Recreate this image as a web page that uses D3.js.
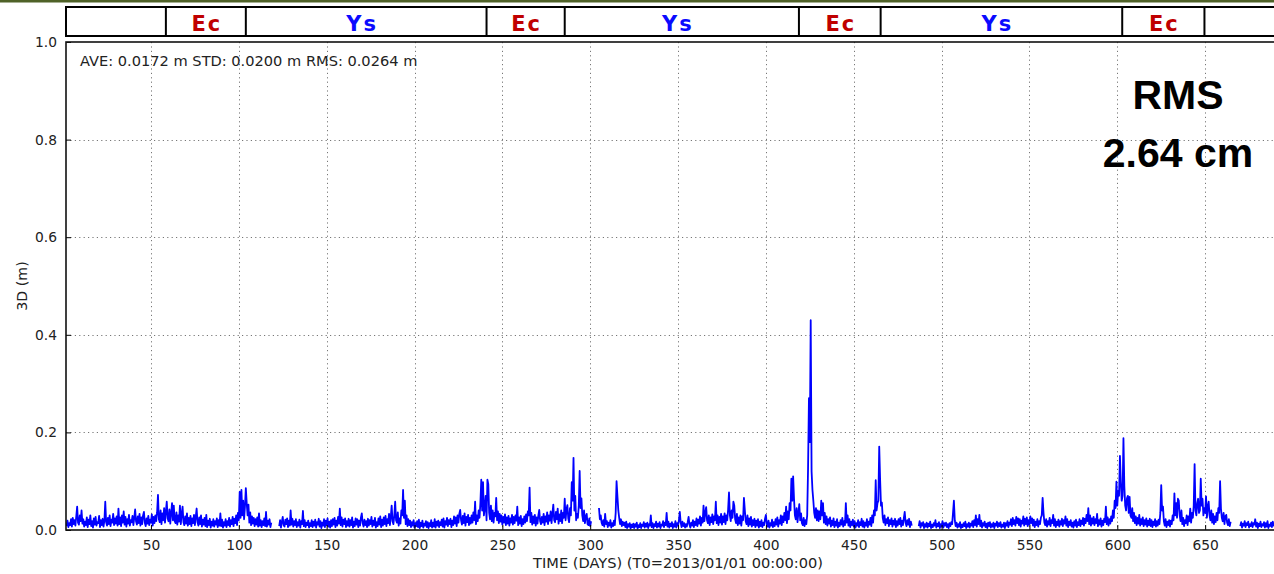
<!DOCTYPE html>
<html>
<head>
<meta charset="utf-8">
<script src="https://cdn.jsdelivr.net/npm/d3@7"></script>
<style>
  html, body { margin: 0; padding: 0; background: #fff; }
  svg { display: block; }
</style>
</head>
<body>
<svg id="chart" width="1274" height="574"></svg>
<script>
// 3D position error (mm), two samples per day; each run is continuous, gaps between runs.
const sampleStep = 0.5;
const runStarts = [2, 123, 305, 487, 670];

const run1 = [
  8,19,6,14,10,22,7,25,12,20,9,28,48,15,11,30,18,40,13,22,
  7,17,10,26,6,21,12,30,8,18,5,24,11,27,9,16,14,29,6,20,
  10,23,7,19,58,16,9,25,12,30,8,21,15,33,10,24,13,28,9,44,
  12,26,8,30,15,38,11,27,7,22,13,31,9,20,16,29,10,25,42,18,
  11,28,14,33,9,26,12,30,37,15,8,24,13,29,10,21,15,32,9,27,
  14,30,18,36,72,22,16,40,12,34,20,45,15,38,58,24,18,42,13,35,
  55,20,50,18,14,36,11,30,17,50,12,33,48,16,10,28,13,34,9,25,
  12,29,8,24,14,31,10,27,44,16,9,26,12,30,7,21,11,25,8,31,
  6,19,10,23,5,17,9,22,7,18,11,24,6,20,9,34,8,21,5,16,
  9,22,6,18,10,25,7,20,12,27,8,23,14,30,10,35,20,78,25,82,
  30,60,22,48,86,55,30,52,15,36,10,28,13,25,8,22,11,26,7,34,
  9,20,6,18,10,24,8,37,7,19,11,22,6,15
];

const run2 = [
  8,20,5,17,27,10,7,21,12,24,6,19,9,40,11,23,7,18,10,22,
  6,16,9,21,5,18,12,39,8,20,6,15,10,19,5,14,8,20,6,17,
  9,21,5,16,11,23,7,18,4,15,9,22,6,19,10,24,7,17,5,20,
  8,22,11,25,6,19,9,27,13,44,10,26,7,21,12,24,6,18,9,23,
  7,20,10,26,5,17,8,24,11,22,6,19,9,25,34,14,7,21,10,18,
  6,23,9,20,12,27,7,19,10,25,5,16,8,24,11,28,6,21,9,26,
  12,29,8,22,14,33,10,27,50,18,12,30,58,20,15,36,9,24,13,40,
  30,82,25,60,12,30,8,22,10,19,6,16,9,20,5,14,8,18,6,21,
  4,15,8,19,5,13,9,18,6,16,4,14,8,20,5,15,7,22,5,17,
  9,19,6,16,10,21,7,24,5,18,11,25,8,20,12,23,6,19,10,28,
  13,26,8,30,15,33,41,20,11,29,14,34,9,27,16,31,10,25,13,30,
  15,36,20,58,12,30,18,40,25,55,103,40,98,30,45,70,20,103,94,35,
  22,50,18,40,15,35,28,66,20,38,14,33,17,30,11,27,15,32,10,26,
  13,29,9,24,15,31,11,27,14,30,19,48,10,26,13,29,8,22,12,28,
  15,32,18,38,30,87,16,35,11,28,14,31,9,26,13,30,41,18,12,27,
  15,33,10,28,17,36,12,30,19,38,14,34,52,20,16,37,22,44,13,32,
  18,40,14,35,25,64,20,42,51,24,16,45,30,98,60,148,40,70,20,33,
  25,50,121,45,65,30,18,40,14,28,33,12,10,24,8,18
];

const run3 = [
  45,22,30,15,10,20,7,33,12,18,6,15,9,20,5,14,8,19,10,35,
  100,69,40,25,12,22,8,17,10,15,6,17,4,12,7,14,3,11,6,13,
  4,12,7,15,3,10,6,14,4,11,8,16,5,13,7,15,4,12,9,30,
  6,14,4,12,8,17,5,13,7,16,4,11,9,18,6,15,10,35,7,17,
  5,13,8,16,4,12,7,18,5,14,9,20,37,15,6,17,8,14,5,12,
  7,16,27,11,5,15,9,20,6,17,10,24,8,21,13,28,9,25,15,50,
  18,35,47,20,14,30,10,26,16,32,12,28,20,58,14,30,10,27,15,33,
  11,28,16,34,12,30,20,42,77,30,18,40,25,58,50,22,14,33,10,26,
  13,30,9,28,20,66,41,18,12,30,8,24,11,27,7,20,10,23,6,19,
  9,22,5,17,8,20,6,15,10,23,31,12,7,19,5,14,9,21,6,16,
  8,22,11,26,7,20,13,30,10,28,16,35,20,48,14,38,22,55,40,105,
  60,110,64,30,22,45,16,35,53,20,34,14,10,25,8,20,12,30,127,270,
  180,430,120,82,60,35,25,45,20,40,18,38,22,60,30,55,15,35,12,28,
  9,22,13,26,7,19,10,24,6,17,9,22,5,15,8,20,11,25,7,18,
  10,55,15,30,9,22,6,17,10,21,7,18,5,14,9,20,6,16,10,23,
  7,18,5,15,9,22,6,17,11,25,8,30,15,40,30,102,40,55,60,171,
  104,50,56,25,15,30,10,22,14,26,8,20,12,24,7,19,11,23,6,18,
  9,22,12,25,7,19,10,24,37,15,8,20,11,23,6,17,9
];

const run4 = [
  8,18,5,14,9,16,4,12,7,15,5,13,8,17,4,11,6,14,9,20,
  5,13,8,16,4,12,7,18,5,14,9,15,6,12,4,14,8,16,12,35,
  60,20,8,15,5,12,7,16,4,11,6,14,8,17,4,12,7,15,5,13,
  9,18,6,20,10,30,7,22,12,31,8,19,5,14,9,17,6,13,4,15,
  8,16,5,12,7,15,4,13,9,17,6,14,8,16,5,11,7,15,4,14,
  9,18,6,15,11,22,8,25,12,20,9,27,14,24,10,22,7,19,13,28,
  9,23,12,26,8,20,11,28,14,24,9,21,6,17,10,22,7,18,12,25,
  30,66,35,15,10,22,7,18,11,25,8,20,14,31,9,22,6,17,10,21,
  7,18,11,23,8,20,13,28,9,22,6,17,10,20,7,15,5,18,9,21,
  6,16,10,22,8,19,12,25,9,23,14,31,18,45,12,30,9,24,13,27,
  10,22,14,33,8,20,11,24,7,19,10,23,16,48,12,26,9,22,13,28,
  18,40,25,60,45,99,50,80,70,152,99,60,70,188,90,50,40,65,70,35,
  68,30,25,45,18,35,14,28,10,25,13,31,9,22,12,26,8,20,11,24,
  7,19,10,23,8,20,6,17,10,22,7,18,9,21,12,35,92,40,48,18,
  9,22,6,17,10,20,7,19,12,30,20,75,30,55,25,64,60,30,18,40,
  12,25,8,20,14,30,10,28,18,44,15,35,25,50,135,40,30,55,64,35,
  40,105,50,64,30,45,35,69,25,48,58,30,20,40,15,33,12,28,16,35,
  20,45,35,100,44,25,18,35,12,28,31,15,10,22,8,17
];

const run5 = [
  8,16,5,13,9,18,6,14,10,17,5,12,8,16,6,14,11,22,7,15,
  4,13,8,17,6,12,9,16,5,14,7,18,4,11,8,15,6,17,9,14,
  5,12,8,16,6,13,10,18,5,12,7,15,4,13,8,17,6,14,9,16,
  5
];

const runs = [run1, run2, run3, run4, run5];

// Observing-season bands along the top strip
const seasonEdges = [58.5, 104, 241, 285.5, 418.8, 465.3, 602.8, 649.6];
const seasonLabels = ["", "Ec", "Ys", "Ec", "Ys", "Ec", "Ys", "Ec", ""];

const xTicks = [50, 100, 150, 200, 250, 300, 350, 400, 450, 500, 550, 600, 650];
const yTicks = [0.0, 0.2, 0.4, 0.6, 0.8, 1.0];

const statsText = "AVE: 0.0172 m STD: 0.0200 m RMS: 0.0264 m";
const rmsLines = ["RMS", "2.64 cm"];

// ---------------------------------------------------------------
const svg = d3.select("#chart");
const W = 1274, H = 574;
const plot = { left: 66, top: 42, right: 1293, bottom: 530 };
const textFont = "DejaVu Sans, sans-serif";
const textColor = "#222";

const x = d3.scaleLinear().domain([1.65, 700]).range([plot.left, plot.right]);
const y = d3.scaleLinear().domain([0, 1]).range([plot.bottom, plot.top]);

// thin slide rule at the very top
svg.append("rect").attr("x", 0).attr("y", 0).attr("width", W).attr("height", 2.5)
  .attr("fill", "#4f6228");

// season strip
const strip = svg.append("g");
const stripTop = 7, stripBottom = 36;
strip.append("rect")
  .attr("x", plot.left).attr("y", stripTop)
  .attr("width", plot.right - plot.left + 20).attr("height", stripBottom - stripTop)
  .attr("fill", "#fff").attr("stroke", "#000").attr("stroke-width", 2);
strip.selectAll("line.edge").data(seasonEdges).join("line")
  .attr("class", "edge")
  .attr("x1", d => x(d)).attr("x2", d => x(d))
  .attr("y1", stripTop).attr("y2", stripBottom)
  .attr("stroke", "#000").attr("stroke-width", 2);
const bounds = [x.domain()[0], ...seasonEdges, x.domain()[1]];
strip.selectAll("text").data(seasonLabels.map((s, i) => ({ s, a: bounds[i], b: bounds[i + 1] })).filter(d => d.s))
  .join("text")
  .attr("x", d => (x(d.a) + x(d.b)) / 2 + (d.s === "Ys" ? -4 : 1))
  .attr("y", 31)
  .attr("text-anchor", "middle")
  .attr("font-family", textFont)
  .attr("font-weight", "bold")
  .attr("font-size", 21)
  .attr("letter-spacing", 2)
  .attr("fill", d => d.s === "Ec" ? "#c00000" : "#0a0aff")
  .text(d => d.s);

// clip for the plot area
svg.append("defs").append("clipPath").attr("id", "plotClip")
  .append("rect").attr("x", plot.left).attr("y", plot.top)
  .attr("width", plot.right - plot.left).attr("height", plot.bottom - plot.top);

// grid
const grid = svg.append("g").attr("stroke", "#777").attr("stroke-width", 1)
  .attr("stroke-dasharray", "1.2,3.2");
grid.selectAll("line.v").data(xTicks).join("line").attr("class", "v")
  .attr("x1", d => Math.round(x(d)) + 0.5).attr("x2", d => Math.round(x(d)) + 0.5)
  .attr("y1", plot.top).attr("y2", plot.bottom);
grid.selectAll("line.h").data(yTicks.filter(v => v > 0 && v < 1)).join("line").attr("class", "h")
  .attr("x1", plot.left).attr("x2", plot.right)
  .attr("y1", d => Math.round(y(d)) + 0.5).attr("y2", d => Math.round(y(d)) + 0.5);

// series
const line = d3.line().x(d => x(d.day)).y(d => y(d.value));
const seriesG = svg.append("g").attr("clip-path", "url(#plotClip)");
runs.forEach((vals, r) => {
  const pts = vals.map((mm, i) => ({ day: runStarts[r] + i * sampleStep, value: mm / 1000 }));
  seriesG.append("path").datum(pts)
    .attr("d", line)
    .attr("fill", "none")
    .attr("stroke", "#0000ff")
    .attr("stroke-width", 1.8)
    .attr("stroke-linejoin", "round");
});

// axes (inward ticks)
const yAxis = d3.axisLeft(y).tickValues(yTicks).tickFormat(d3.format(".1f")).tickSize(-5).tickPadding(9);
const xAxis = d3.axisBottom(x).tickValues(xTicks).tickFormat(d3.format("d")).tickSize(-5).tickPadding(10);

const gy = svg.append("g").attr("transform", `translate(${plot.left},0)`).call(yAxis);
const gx = svg.append("g").attr("transform", `translate(0,${plot.bottom})`).call(xAxis);
[gx, gy].forEach(g => {
  g.select(".domain").remove();
  g.selectAll(".tick line").attr("stroke", "#000").attr("stroke-width", 1);
  g.selectAll(".tick text").attr("fill", textColor)
    .attr("font-family", textFont).attr("font-size", 13.8);
});

// frame
svg.append("rect")
  .attr("x", plot.left).attr("y", plot.top)
  .attr("width", plot.right - plot.left).attr("height", plot.bottom - plot.top)
  .attr("fill", "none").attr("stroke", "#111").attr("stroke-width", 1.6);

// axis titles
svg.append("text")
  .attr("x", 678).attr("y", 568)
  .attr("text-anchor", "middle")
  .attr("font-family", textFont).attr("font-size", 14.6).attr("fill", textColor)
  .text("TIME (DAYS) (T0=2013/01/01 00:00:00)");
svg.append("text")
  .attr("transform", `translate(27,${(plot.top + plot.bottom) / 2}) rotate(-90)`)
  .attr("text-anchor", "middle")
  .attr("font-family", textFont).attr("font-size", 14.2).attr("fill", textColor)
  .text("3D (m)");

// statistics line
svg.append("text")
  .attr("x", 80).attr("y", 66)
  .attr("font-family", textFont).attr("font-size", 14.6).attr("fill", textColor)
  .text(statsText);

// RMS callout
svg.append("g").selectAll("text").data(rmsLines).join("text")
  .attr("x", 1178).attr("y", (d, i) => 109 + i * 58)
  .attr("text-anchor", "middle")
  .attr("font-family", "Liberation Sans, Arial, sans-serif")
  .attr("font-weight", "bold").attr("font-size", 41).attr("fill", "#000")
  .text(d => d);
</script>
</body>
</html>
